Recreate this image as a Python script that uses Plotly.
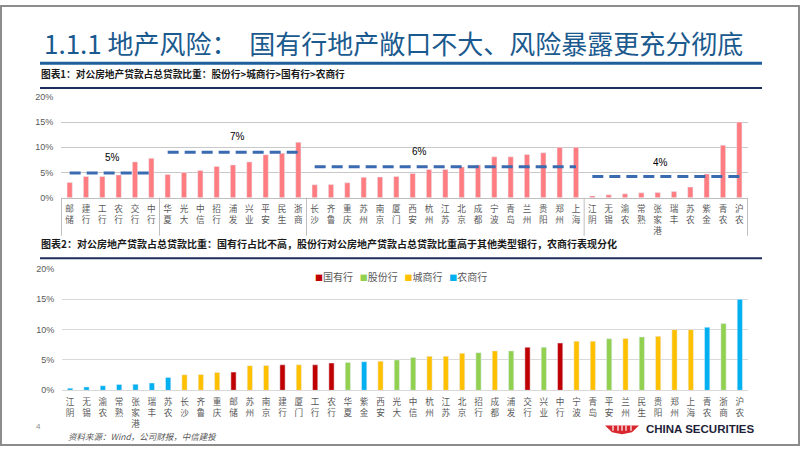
import plotly.graph_objects as go

# ---------------- data ----------------
banks = ["邮储", "建行", "工行", "农行", "交行", "中行",
         "华夏", "光大", "中信", "招行", "浦发", "兴业", "平安", "民生", "浙商",
         "长沙", "齐鲁", "重庆", "苏州", "南京", "厦门", "西安", "杭州", "江苏", "北京",
         "成都", "宁波", "青岛", "兰州", "贵阳", "郑州", "上海",
         "江阴", "无锡", "渝农", "常熟", "张家港", "瑞丰", "苏农", "紫金", "青农", "沪农"]
share = [3.0, 4.2, 4.2, 4.5, 7.1, 7.8,
         4.6, 5.0, 5.4, 6.2, 6.5, 7.1, 8.5, 8.8, 11.0,
         2.55, 2.6, 2.95, 4.05, 4.1, 4.2, 4.8, 5.6, 5.6, 6.1,
         6.5, 8.1, 8.1, 8.55, 8.9, 10.0, 10.0,
         0.35, 0.55, 0.75, 0.95, 1.0, 1.2, 2.1, 4.7, 10.4, 15.0]
group_names = ["国有行", "股份行", "城商行", "农商行"]
group_sizes = [6, 9, 17, 10]
group_colors = ["#C00000", "#92D050", "#FFC000", "#00B0F0"]
group_line = [4.9, 9.0, 6.15, 4.2]          # dashed average lines as drawn
group_label = ["5%", "7%", "6%", "4%"]      # labels printed above them
group_label_x = [2.6, 10.3, 21.4, 36.2]
group_label_y = [8.0, 12.2, 9.1, 7.0]

order2 = ["江阴", "无锡", "渝农", "常熟", "张家港", "瑞丰", "苏农", "长沙", "齐鲁", "重庆",
          "邮储", "苏州", "南京", "建行", "厦门", "工行", "农行", "华夏", "紫金", "西安",
          "光大", "中信", "杭州", "江苏", "北京", "招行", "成都", "浦发", "交行", "兴业",
          "中行", "宁波", "青岛", "平安", "兰州", "民生", "贵阳", "郑州", "上海", "青农",
          "浙商", "沪农"]
yticks = [0, 5, 10, 15, 20]
yticktext = ["0%", "5%", "10%", "15%", "20%"]

title = "1.1.1 地产风险：  国有行地产敞口不大、风险暴露更充分彻底"
sub1 = "图表1：对公房地产贷款占总贷款比重：股份行>城商行>国有行>农商行"
sub2 = "图表2：对公房地产贷款占总贷款比重：国有行占比不高，股份行对公房地产贷款占总贷款比重高于其他类型银行，农商行表现分化"
source = "资料来源：Wind，公司财报，中信建投"

# ---------------- helpers ----------------
W, H = 802, 452
def fx(p): return p / W
def fy(p): return 1 - p / H
def vlab(s): return "<br>".join(list(s))

CJK = "Noto Sans CJK SC"
LAT = "Liberation Sans"

bank_group = []
for g, n in zip(group_names, group_sizes):
    bank_group += [g] * n
value_of = dict(zip(banks, share))
group_of = dict(zip(banks, bank_group))

fig = go.Figure()

# chart 1 bars
fig.add_trace(go.Bar(x=[vlab(b) for b in banks], y=share, marker_color="#FF7C80",
                     xaxis="x", yaxis="y", showlegend=False))
# chart 1 dashed group lines
start = 0
for g, n, lv in zip(group_names, group_sizes, group_line):
    xs = [vlab(b) for b in banks[start:start + n]]
    fig.add_trace(go.Scatter(x=xs, y=[lv] * n, mode="lines",
                             line=dict(color="#3A6AB0", width=3, dash="11px,6px"),
                             xaxis="x", yaxis="y", showlegend=False, hoverinfo="skip"))
    start += n

# chart 2 bars, one trace per bank type
for g, c in zip(group_names, group_colors):
    xs = [vlab(b) for b in order2 if group_of[b] == g]
    ys = [value_of[b] for b in order2 if group_of[b] == g]
    fig.add_trace(go.Bar(x=xs, y=ys, name=g, marker_color=c,
                         xaxis="x2", yaxis="y2", showlegend=False))

tickfont_c = dict(family=CJK, size=8.6, color="#595959")
tickfont_y = dict(family=LAT, size=9, color="#595959")

fig.update_layout(
    width=W, height=H, margin=dict(l=0, r=0, t=0, b=0),
    paper_bgcolor="white", plot_bgcolor="white",
    barmode="overlay", bargap=0.68,
    xaxis=dict(domain=[fx(61), fx(748)], anchor="y", type="category",
               categoryorder="array", categoryarray=[vlab(b) for b in banks],
               showgrid=False, showline=True, linecolor="#BFBFBF", linewidth=1,
               ticks="outside", ticklen=3, tickcolor="rgba(0,0,0,0)",
               tickfont=tickfont_c, tickangle=0, fixedrange=True),
    yaxis=dict(domain=[fy(197), fy(94)], anchor="x", range=[0, 20], tickmode="array",
               tickvals=yticks, ticktext=yticktext,
               showgrid=True, gridcolor="#C8C8C8", gridwidth=1,
               zeroline=False, showline=False, ticks="outside", ticklen=5,
               tickcolor="rgba(0,0,0,0)", tickfont=tickfont_y, fixedrange=True),
    xaxis2=dict(domain=[fx(62), fx(748)], anchor="y2", type="category",
                categoryorder="array", categoryarray=[vlab(b) for b in order2],
                showgrid=False, showline=True, linecolor="#D9D9D9", linewidth=1,
                ticks="outside", ticklen=3, tickcolor="rgba(0,0,0,0)",
                tickfont=tickfont_c, tickangle=0, fixedrange=True),
    yaxis2=dict(domain=[fy(394), fy(270)], anchor="x2", range=[0, 20], tickmode="array",
                tickvals=yticks, ticktext=yticktext,
                showgrid=True, gridcolor="#D9D9D9", gridwidth=1,
                zeroline=False, showline=False, ticks="outside", ticklen=5,
                tickcolor="rgba(0,0,0,0)", tickfont=tickfont_y, fixedrange=True),
)

shapes = []
annotations = []

# frame
shapes.append(dict(type="rect", xref="paper", yref="paper", x0=fx(1), x1=fx(799),
                   y0=fy(450), y1=fy(1), line=dict(color="#8C8C8C", width=2)))
# title rule and subtitle rules
shapes.append(dict(type="line", xref="paper", yref="paper", x0=fx(40), x1=fx(762),
                   y0=fy(59.5), y1=fy(59.5), line=dict(color="#1F5F9C", width=3)))
shapes.append(dict(type="line", xref="paper", yref="paper", x0=fx(40), x1=fx(762),
                   y0=fy(85), y1=fy(85), line=dict(color="#1F2D5C", width=2)))
shapes.append(dict(type="line", xref="paper", yref="paper", x0=fx(40), x1=fx(762),
                   y0=fy(259), y1=fy(259), line=dict(color="#1F2D5C", width=2)))

# chart 1 group separators in the category label area
b = -0.5
bounds = [b]
for n in group_sizes:
    b += n
    bounds.append(b)
for bx in bounds:
    shapes.append(dict(type="line", xref="x", yref="paper", x0=bx, x1=bx,
                       y0=fy(197), y1=fy(236), line=dict(color="#BFBFBF", width=1)))

# group average labels
for t, lx, ly in zip(group_label, group_label_x, group_label_y):
    annotations.append(dict(text=t, x=lx, y=ly, xref="x", yref="y", showarrow=False,
                            font=dict(family=LAT, size=10, color="#000000")))

# titles
annotations.append(dict(text=title, x=fx(42), y=fy(38), xref="paper", yref="paper",
                        xanchor="left", yanchor="middle", showarrow=False,
                        font=dict(family=CJK, size=26, color="#1B5A8E")))
annotations.append(dict(text="<b>" + sub1 + "</b>", x=fx(39), y=fy(71), xref="paper",
                        yref="paper", xanchor="left", yanchor="middle", showarrow=False,
                        font=dict(family=CJK, size=9.7, color="#1A1A1A")))
annotations.append(dict(text="<b>" + sub2 + "</b>", x=fx(39), y=fy(244), xref="paper",
                        yref="paper", xanchor="left", yanchor="middle", showarrow=False,
                        font=dict(family=CJK, size=10, color="#1A1A1A")))

# chart 2 legend (key)
key = "   ".join("<span style='color:%s;font-size:8px'>■</span>%s" % (c, g)
                 for g, c in zip(group_names, group_colors))
annotations.append(dict(text=key, x=fx(401), y=fy(278), xref="paper", yref="paper",
                        xanchor="center", yanchor="middle", showarrow=False,
                        font=dict(family=CJK, size=10, color="#595959")))

# footer
annotations.append(dict(text="4", x=fx(34), y=fy(438), xref="paper", yref="paper",
                        showarrow=False, font=dict(family=LAT, size=8, color="#8C8C8C")))
annotations.append(dict(text="<i>" + source + "</i>", x=fx(66), y=fy(441), xref="paper",
                        yref="paper", xanchor="left", yanchor="middle", showarrow=False,
                        font=dict(family=CJK, size=8.5, color="#595959")))
annotations.append(dict(text="<b>CHINA SECURITIES</b>", x=fx(644), y=fy(434), xref="paper",
                        yref="paper", xanchor="left", yanchor="middle", showarrow=False,
                        font=dict(family=LAT, size=11.5, color="#1F1F3A")))

# logo mark
def pth(points):
    s = "M %f,%f " % (fx(points[0][0]), fy(points[0][1]))
    for p in points[1:]:
        s += "L %f,%f " % (fx(p[0]), fy(p[1]))
    return s + "Z"
shapes.append(dict(type="path", xref="paper", yref="paper",
                   path=pth([(605, 430), (639, 430), (632, 437), (622, 439), (612, 437)]),
                   fillcolor="#D7262E", line=dict(width=0)))
for sx in [613, 618, 622, 626, 631]:
    shapes.append(dict(type="line", xref="paper", yref="paper", x0=fx(sx), x1=fx(sx),
                       y0=fy(430), y1=fy(435.5), line=dict(color="white", width=1.2)))

fig.update_layout(shapes=shapes, annotations=annotations)
fig.write_html("out.html", config={"displayModeBar": False},
               post_script="document.body.style.margin='0';")
